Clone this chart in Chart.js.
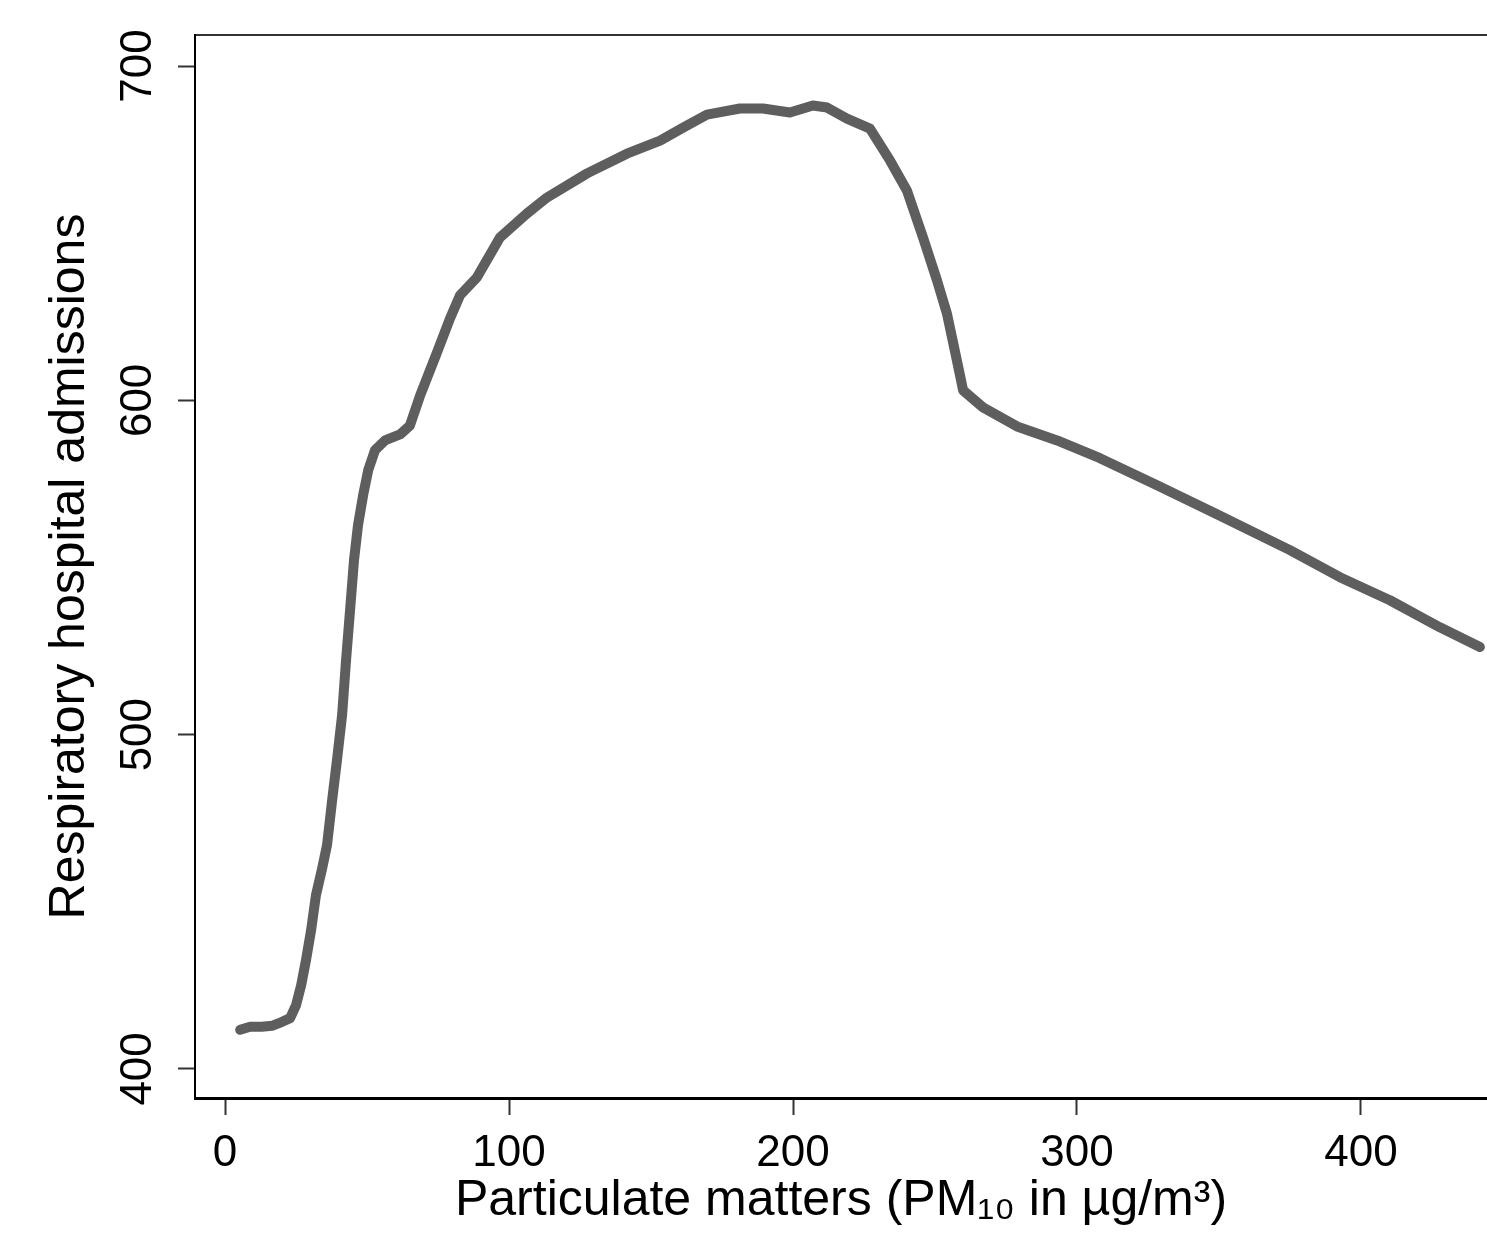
<!DOCTYPE html>
<html>
<head>
<meta charset="utf-8">
<title>Respiratory hospital admissions and PM10</title>
<script src="https://cdn.jsdelivr.net/npm/chart.js@4.4.1/dist/chart.umd.min.js"></script>
<style>
  html, body { margin: 0; padding: 0; background: #fff; }
  #wrap { width: 1487px; height: 1239px; position: relative; }
</style>
</head>
<body>
<div id="wrap"><canvas id="pmChart"></canvas></div>
<script>
// PM10 (µg/m3) along the smoothed curve
const pm10 = [
    5.3, 8.8, 13.0, 16.5, 20.1, 22.9, 25.0, 26.8, 28.5, 30.3,
    32.0, 34.2, 35.9, 37.7, 39.4, 41.2, 42.6, 44.0, 45.4, 46.8,
    48.6, 50.4, 52.8, 56.3, 61.6, 65.1, 68.7, 74.6, 79.2, 82.7,
    88.7, 96.8, 106.3, 113.4, 127.5, 141.5, 153.2, 161.3, 169.7, 181.3,
    189.4, 198.9, 207.0, 212.0, 219.0, 227.1, 234.2, 240.1, 245.8, 250.7,
    254.2, 257.7, 259.9, 266.9, 278.9, 293.0, 308.1, 328.2, 349.3, 375.0,
    392.6, 410.2, 427.8, 441.9
];
// respiratory hospital admissions at each PM10 value
const admissions = [
    411.7, 412.6, 412.6, 412.9, 414.1, 415.2, 419.1, 425.1, 432.6, 441.6,
    452.0, 460.1, 467.0, 480.4, 492.4, 505.8, 522.3, 537.2, 552.2, 562.6,
    571.6, 579.1, 585.1, 588.0, 589.8, 592.5, 601.5, 614.3, 624.5, 631.4,
    636.8, 648.7, 655.9, 660.7, 667.9, 673.8, 677.7, 681.6, 685.5, 687.3,
    687.3, 686.1, 688.2, 687.6, 684.3, 681.3, 671.7, 662.8, 648.7, 635.9,
    626.0, 612.0, 603.0, 597.9, 592.2, 588.0, 582.7, 574.6, 565.9, 555.2,
    547.1, 540.2, 532.1, 526.2
];
const xTicks = [0, 100, 200, 300, 400];
const yTicks = [400, 500, 600, 700];

const fontFamily = "'Liberation Sans', Arial, sans-serif";

document.addEventListener('DOMContentLoaded', function () {
    const canvas = document.getElementById('pmChart');

    new Chart(canvas, {
        type: 'line',
        data: {
            datasets: [{
                data: pm10.map((x, i) => ({ x: x, y: admissions[i] })),
                borderColor: '#5e5e5e',
                borderWidth: 10,
                borderCapStyle: 'round',
                borderJoinStyle: 'round',
                pointRadius: 0,
                tension: 0,
                fill: false,
                xAxisID: 'x',
                yAxisID: 'y'
            }]
        },
        options: {
            responsive: true,
            maintainAspectRatio: false,
            animation: false,
            devicePixelRatio: 1,
            layout: { padding: 0 },
            plugins: {
                legend: { display: false },
                tooltip: { enabled: false }
            },
            scales: {
                x: {
                    type: 'linear',
                    position: 'bottom',
                    min: -10.6,
                    max: 444.4,
                    afterBuildTicks: s => { s.ticks = xTicks.map(v => ({ value: v })); },
                    afterFit: s => { s.height = 141; },
                    grid: {
                        drawOnChartArea: false,
                        tickLength: 17,
                        tickColor: '#333',
                        tickWidth: 2
                    },
                    border: { display: true, color: '#000', width: 3 },
                    ticks: {
                        color: '#000',
                        font: { family: fontFamily, size: 44 },
                        padding: 12,
                        maxRotation: 0,
                        autoSkip: false
                    },
                    title: {
                        display: true,
                        text: 'Particulate matters (PM₁₀ in µg/m³)',
                        color: '#000',
                        font: { family: fontFamily, size: 50 },
                        padding: { top: 0, bottom: 8 }
                    }
                },
                xTop: {
                    type: 'linear',
                    position: 'top',
                    min: -10.6,
                    max: 444.4,
                    afterFit: s => { s.height = 35; },
                    grid: { display: false },
                    ticks: { display: false },
                    border: { display: true, color: '#333', width: 2 }
                },
                y: {
                    type: 'linear',
                    position: 'left',
                    min: 391.3,
                    max: 709.3,
                    afterBuildTicks: s => { s.ticks = yTicks.map(v => ({ value: v })); },
                    afterFit: s => { s.width = 195; },
                    grid: {
                        drawOnChartArea: false,
                        tickLength: 17,
                        tickColor: '#333',
                        tickWidth: 2
                    },
                    border: { display: true, color: '#000', width: 2 },
                    ticks: {
                        color: '#000',
                        font: { family: fontFamily, size: 44 },
                        minRotation: 90,
                        maxRotation: 90,
                        crossAlign: 'center',
                        padding: 2
                    },
                    title: {
                        display: true,
                        text: 'Respiratory hospital admissions',
                        color: '#000',
                        font: { family: fontFamily, size: 50 },
                        padding: { top: 40, bottom: 0 }
                    }
                }
            }
        }
    });
});
</script>
</body>
</html>
